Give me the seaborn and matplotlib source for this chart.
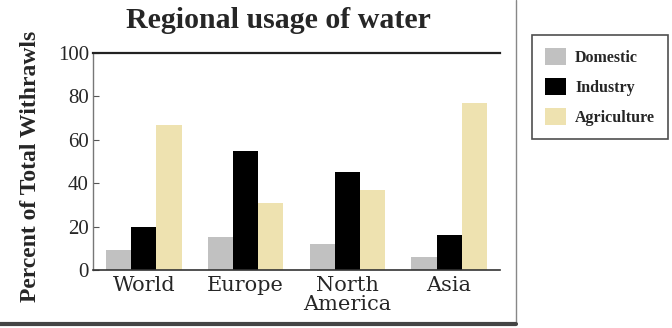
import matplotlib
matplotlib.use("Agg")
import matplotlib.pyplot as plt
import matplotlib.lines as mlines
import matplotlib.patches as mpatches
import pandas as pd
import seaborn as sns

# Share of total water withdrawals by sector (%)
regions = ["World", "Europe", "North\nAmerica", "Asia"]
sectors = ["Domestic", "Industry", "Agriculture"]
domestic = [9, 15, 12, 6]
industry = [20, 55, 45, 16]
agriculture = [67, 31, 37, 77]
y_ticks = [0, 20, 40, 60, 80, 100]

colors = ["#c1c1c1", "#000000", "#eee2b0"]

df = pd.DataFrame({
    "region": regions * 3,
    "sector": [s for s in sectors for _ in regions],
    "value": domestic + industry + agriculture,
})

sns.set_theme(style="white")
plt.rcParams["font.family"] = ["Liberation Serif", "DejaVu Serif"]

fig = plt.figure(figsize=(6.72, 3.28), dpi=100)
ax = fig.add_axes([93 / 672, 1 - 270 / 328, 407 / 672, 217 / 328])

sns.barplot(data=df, x="region", y="value", hue="sector", order=regions,
            hue_order=sectors, palette=colors, width=0.74, saturation=1,
            linewidth=0, ax=ax, legend=False)

ax.set_xlim(-0.5, 3.5)
ax.set_ylim(0, 100)
ax.set_yticks(y_ticks)
ax.set_yticklabels([str(t) for t in y_ticks], fontsize=15)
ax.set_xticks(range(len(regions)))
ax.set_xticklabels(regions, fontsize=15, family="DejaVu Serif", linespacing=1.05)
ax.set_xticks([0.5, 1.5, 2.5], minor=True)
ax.tick_params(axis="x", which="major", length=0, pad=4)
ax.tick_params(axis="x", which="minor", direction="in", length=6, width=1, color="#333333")
ax.tick_params(axis="y", which="major", direction="in", length=4, width=0.8,
               color="#555555", pad=3, left=True)
ax.set_xlabel("")
ax.set_ylabel("")

for side in ["left", "bottom", "top"]:
    ax.spines[side].set_visible(True)
ax.spines["right"].set_visible(False)
ax.spines["left"].set_color("#777777")
ax.spines["left"].set_linewidth(1.0)
ax.spines["bottom"].set_color("#333333")
ax.spines["bottom"].set_linewidth(1.2)
ax.spines["top"].set_color("#222222")
ax.spines["top"].set_linewidth(1.6)

fig.text(278 / 672, 1 - 21 / 328, "Regional usage of water", ha="center",
         va="center", fontsize=21.5, fontweight="bold")
fig.text(31 / 672, 1 - 166 / 328, "Percent of Total Withrawls", rotation=90,
         ha="center", va="center", fontsize=17, fontweight="bold")

handles = [mpatches.Patch(facecolor=c, edgecolor="none", label=s)
           for c, s in zip(colors, sectors)]
leg = fig.legend(handles=handles, loc="upper left",
                 bbox_to_anchor=(532 / 672, 1 - 35 / 328),
                 frameon=True, fancybox=False, edgecolor="#222222",
                 prop={"family": "Liberation Serif", "weight": "bold", "size": 11.5},
                 handlelength=1.3, handleheight=1.3, labelspacing=0.75,
                 handletextpad=0.6, borderpad=0.8, borderaxespad=0)
leg.get_frame().set_linewidth(1.2)

# page border lines around the chart panel
fig.add_artist(mlines.Line2D([516 / 672, 516 / 672], [1 - 322 / 328, 1.0],
                             color="#888888", lw=1.0))
fig.add_artist(mlines.Line2D([0, 516 / 672], [1 - 324 / 328, 1 - 324 / 328],
                             color="#444444", lw=3.0))

fig.savefig("out.png", dpi=100)
